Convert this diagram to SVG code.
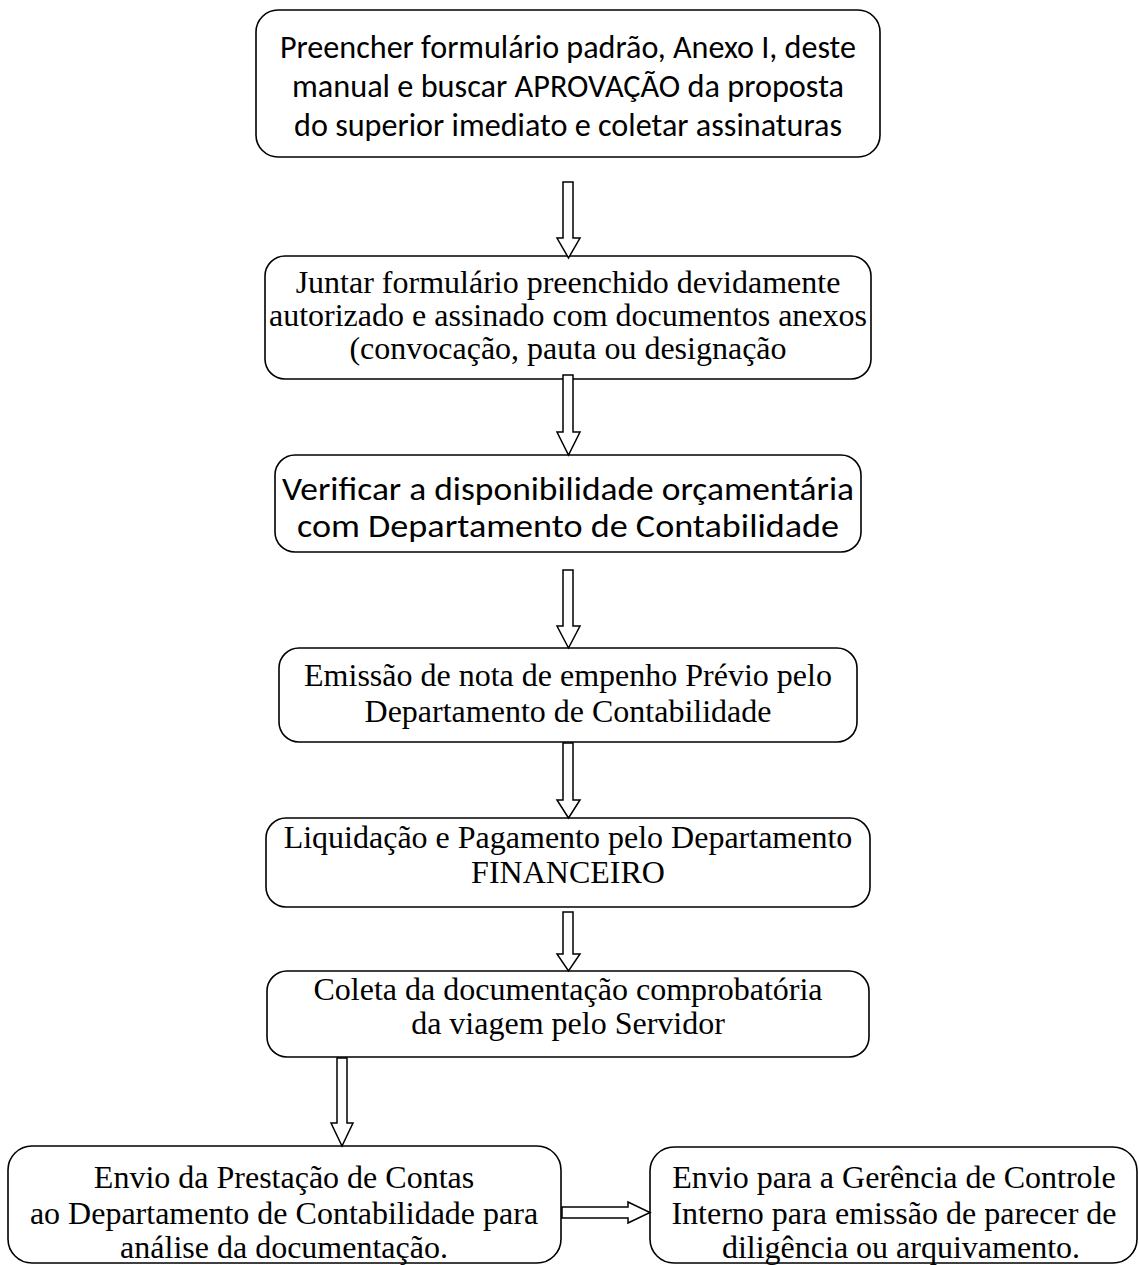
<svg xmlns="http://www.w3.org/2000/svg" width="1139" height="1265" viewBox="0 0 1139 1265">
<style>
.box{fill:#fff;stroke:#000;stroke-width:1.6}
.arr{fill:#fff;stroke:#000;stroke-width:1.5;stroke-linejoin:miter}
.cal{font-family:Carlito,Lato,"Open Sans",sans-serif;font-size:32px;fill:#000;text-anchor:middle}
.tnr{font-family:"Liberation Serif","Times New Roman",serif;font-size:32px;fill:#000;text-anchor:middle}
</style>
<rect width="1139" height="1265" fill="#fff"/>
<g id="n1">
<rect class="box" x="256" y="10" width="624" height="147" rx="22"/>
<text class="cal" x="568" y="58" textLength="576" lengthAdjust="spacingAndGlyphs">Preencher formulário padrão, Anexo I, deste</text>
<text class="cal" x="568" y="97" textLength="552" lengthAdjust="spacingAndGlyphs">manual e buscar APROVAÇÃO da proposta</text>
<text class="cal" x="568" y="136" textLength="548" lengthAdjust="spacingAndGlyphs">do superior imediato e coletar assinaturas</text>
</g>
<g id="n2">
<rect class="box" x="265" y="256" width="606" height="123" rx="20"/>
<text class="tnr" x="568" y="293">Juntar formulário preenchido devidamente</text>
<text class="tnr" x="568" y="326">autorizado e assinado com documentos anexos</text>
<text class="tnr" x="568" y="359">(convocação, pauta ou designação</text>
</g>
<g id="n3">
<rect class="box" x="275" y="455" width="586" height="97" rx="20"/>
<text class="cal" x="568" y="500" font-size="34" textLength="572" lengthAdjust="spacingAndGlyphs">Verificar a disponibilidade orçamentária</text>
<text class="cal" x="568" y="537" font-size="34" textLength="542" lengthAdjust="spacingAndGlyphs">com Departamento de Contabilidade</text>
</g>
<g id="n4">
<rect class="box" x="279" y="648" width="578" height="94" rx="20"/>
<text class="tnr" x="568" y="686">Emissão de nota de empenho Prévio pelo</text>
<text class="tnr" x="568" y="722">Departamento de Contabilidade</text>
</g>
<g id="n5">
<rect class="box" x="266" y="818" width="604" height="89" rx="20"/>
<text class="tnr" x="568" y="848">Liquidação e Pagamento pelo Departamento</text>
<text class="tnr" x="568" y="883">FINANCEIRO</text>
</g>
<g id="n6">
<rect class="box" x="267" y="971" width="602" height="86" rx="20"/>
<text class="tnr" x="568" y="1000">Coleta da documentação comprobatória</text>
<text class="tnr" x="568" y="1034">da viagem pelo Servidor</text>
</g>
<g id="n7">
<rect class="box" x="8" y="1146" width="553" height="117" rx="24"/>
<text class="tnr" x="284" y="1188">Envio da Prestação de Contas</text>
<text class="tnr" x="284" y="1224">ao Departamento de Contabilidade para</text>
<text class="tnr" x="284" y="1258">análise da documentação.</text>
</g>
<g id="n8">
<rect class="box" x="650" y="1147" width="487" height="116" rx="24"/>
<text class="tnr" x="894" y="1188">Envio para a Gerência de Controle</text>
<text class="tnr" x="894" y="1224">Interno para emissão de parecer de</text>
<text class="tnr" x="901" y="1258">diligência ou arquivamento.</text>
</g>
<g id="connectors">
<path class="arr" d="M563,182 L573,182 L573,238 L580,238 L568.5,258 L557,238 L563,238 Z"/>
<path class="arr" d="M563,375 L573,375 L573,432 L580,432 L568.5,455 L557,432 L563,432 Z"/>
<path class="arr" d="M563,570 L573,570 L573,626 L580,626 L568.5,648 L557,626 L563,626 Z"/>
<path class="arr" d="M563,743 L573,743 L573,800 L580,800 L568.5,818 L557,800 L563,800 Z"/>
<path class="arr" d="M563,912 L573,912 L573,954 L580,954 L568.5,971 L557,954 L563,954 Z"/>
<path class="arr" d="M337,1058 L347,1058 L347,1123 L353,1123 L342,1146 L331,1123 L337,1123 Z"/>
<path class="arr" d="M562,1207 L628,1207 L628,1202 L650,1212.5 L628,1223 L628,1218 L562,1218 Z"/>
</g>
</svg>
